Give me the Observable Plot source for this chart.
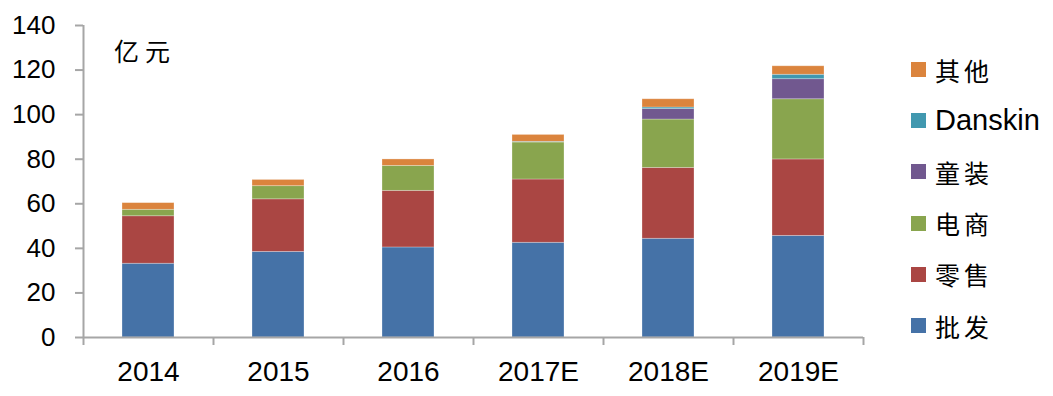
<!DOCTYPE html>
<html><head><meta charset="utf-8">
<script src="https://cdn.jsdelivr.net/npm/d3@7"></script>
<script src="https://cdn.jsdelivr.net/npm/@observablehq/plot@0.6"></script>
<style>
body{margin:0;background:#fff}
#wrap{position:relative;width:1053px;height:396px;background:#fff}
#unit{position:absolute;left:114px;top:34px;font-family:"Noto Sans CJK SC",sans-serif;font-size:25px;letter-spacing:6px;color:#000;line-height:32px}
#legend{position:absolute;left:911px;top:44px}
.item{height:51.2px;display:flex;align-items:center}
.sw{width:15px;height:15px;margin-right:9px;flex:none}
.lab{font-family:"Noto Sans CJK SC",sans-serif;font-size:25px;letter-spacing:4px;color:#000}
.lab.latin{font-family:"Liberation Sans",Arial,sans-serif;font-size:29px;letter-spacing:0}
</style>
</head><body>
<div id="wrap"></div>
<script>
const years = ["2014", "2015", "2016", "2017E", "2018E", "2019E"];
const series = ["批发", "零售", "电商", "童装", "Danskin", "其他"];
const colors = ["#4572A7", "#AA4643", "#89A54E", "#71588F", "#4198AF", "#DB843D"];
const wholesale = [33.1, 38.4, 40.4, 42.5, 44.3, 45.6];
const retail    = [21.3, 23.6, 25.4, 28.4, 31.8, 34.3];
const ecommerce = [2.9, 5.9, 11.2, 16.6, 21.7, 27.0];
const kids      = [0, 0, 0, 0, 4.7, 9.0];
const danskin   = [0, 0, 0, 0.3, 0.7, 2.0];
const others    = [3.0, 2.8, 2.9, 3.1, 3.7, 3.8];
const yTicks = [0, 20, 40, 60, 80, 100, 120, 140];
const unitLabel = "亿元";

const seriesValues = [wholesale, retail, ecommerce, kids, danskin, others];
const rows = [];
years.forEach((yr, i) => {
  series.forEach((s, k) => rows.push({i, year: yr, series: s, value: seriesValues[k][i]}));
});

const axisColor = "#a6a6a6";
const chart = Plot.plot({
  width: 1053, height: 396,
  marginLeft: 83, marginRight: 190, marginTop: 25, marginBottom: 59,
  x: {type: "linear", domain: [0, years.length], axis: null},
  y: {domain: [0, 140], axis: null},
  color: {domain: series, range: colors},
  style: {fontFamily: "'Liberation Sans', Arial, sans-serif", background: "white", color: "black"},
  marks: [
    Plot.rectY(rows, Plot.stackY({
      x1: "i", x2: d => d.i + 1, y: "value", fill: "series", order: series,
      insetLeft: 39, insetRight: 39, stroke: "white", strokeOpacity: 0.35, strokeWidth: 0.8
    })),
    Plot.ruleX([0], {stroke: axisColor, strokeWidth: 2}),
    Plot.ruleY([0], {stroke: axisColor, strokeWidth: 2}),
    Plot.axisY({ticks: yTicks, tickSize: 8, tickPadding: 20, fontSize: 26, stroke: axisColor, strokeWidth: 2, fill: "black", label: null}),
    Plot.axisX({ticks: d3.range(years.length + 1), tickSize: 8, tickFormat: () => "", stroke: axisColor, strokeWidth: 2, label: null}),
    Plot.axisX({ticks: years.map((_, i) => i + 0.5), tickSize: 0, tickPadding: 24, fontSize: 28,
      tickFormat: d => years[Math.floor(d)], fill: "black", label: null})
  ]
});

const wrap = document.getElementById("wrap");
wrap.appendChild(chart);

const unit = document.createElement("div");
unit.id = "unit";
unit.textContent = unitLabel;
wrap.appendChild(unit);

const legend = document.createElement("div");
legend.id = "legend";
series.slice().reverse().forEach(s => {
  const item = document.createElement("div");
  item.className = "item";
  const sw = document.createElement("div");
  sw.className = "sw";
  sw.style.background = colors[series.indexOf(s)];
  const lab = document.createElement("span");
  lab.className = "lab" + (/^[A-Za-z]+$/.test(s) ? " latin" : "");
  lab.textContent = s;
  item.appendChild(sw); item.appendChild(lab);
  legend.appendChild(item);
});
wrap.appendChild(legend);
</script>
</body></html>
